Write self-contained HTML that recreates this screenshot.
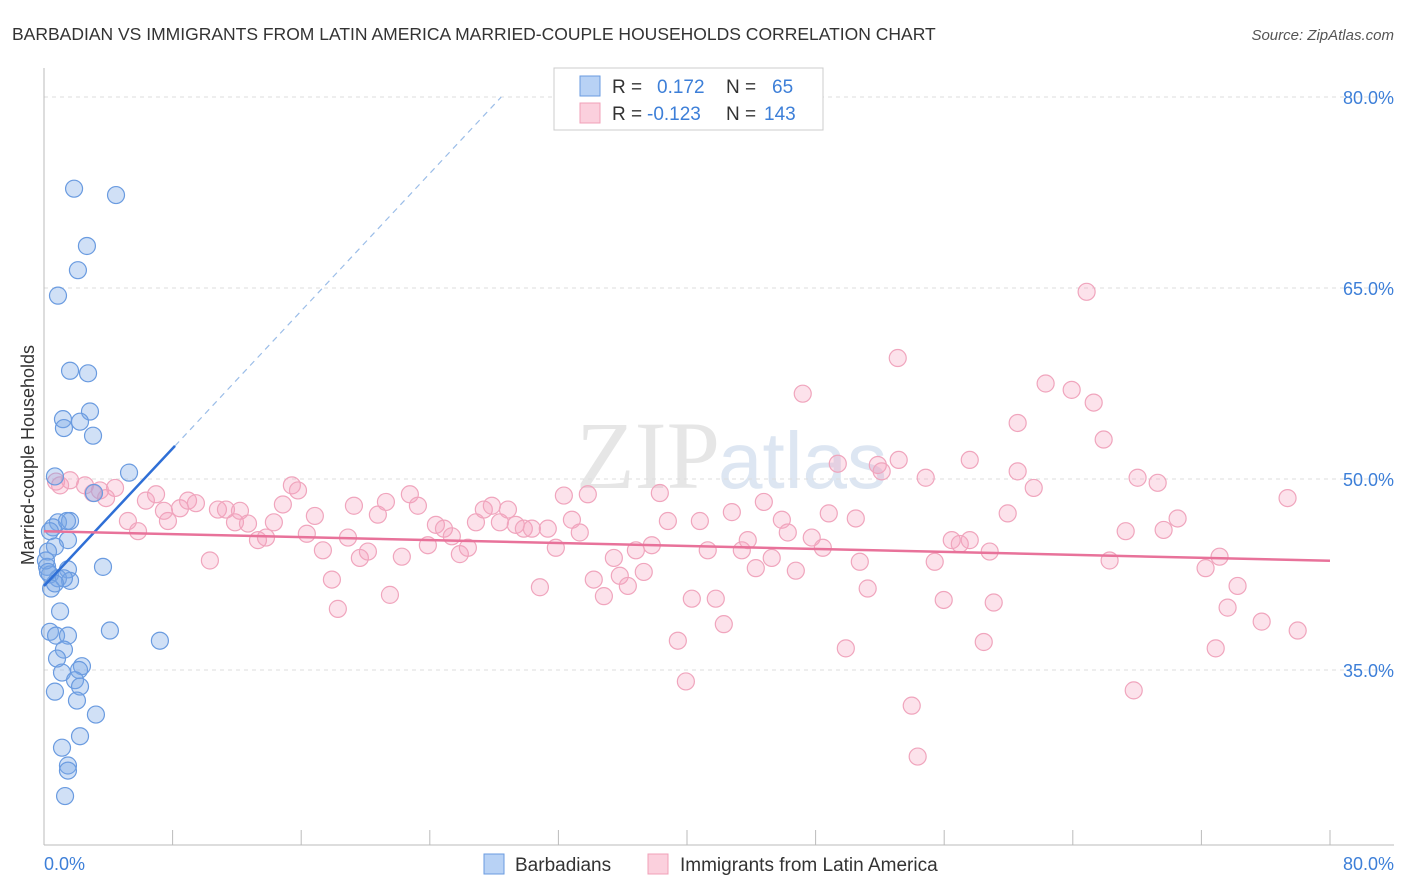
<!DOCTYPE html>
<html><head><meta charset="utf-8"><style>
body{margin:0;background:#fff;font-family:"Liberation Sans",sans-serif;}
svg{display:block}
</style></head><body>
<svg id="chart" width="1406" height="892" viewBox="0 0 1406 892">
<text x="12" y="40" font-size="17.5" fill="#333">BARBADIAN VS IMMIGRANTS FROM LATIN AMERICA MARRIED-COUPLE HOUSEHOLDS CORRELATION CHART</text>
<text x="1394" y="40" font-size="15" fill="#555" font-style="italic" text-anchor="end">Source: ZipAtlas.com</text>
<text x="720" y="488" font-size="96" fill="#e6e6e6" text-anchor="end" font-family="Liberation Serif,serif">ZIP</text>
<text x="718" y="488" font-size="80" fill="#dde6f2">atlas</text>
<g id="grid"></g>
<g id="axes"></g>
<text transform="translate(34,455) rotate(-90)" font-size="18" fill="#333" text-anchor="middle">Married-couple Households</text>
<g id="points"></g>
<g id="trends"></g>
<g>
<rect x="554" y="68" width="269" height="62" fill="#fff" stroke="#ccc"/>
<rect x="580" y="76" width="20" height="20" fill="#b8d2f5" stroke="#6a9be0"/>
<text x="612" y="93" font-size="19" fill="#333">R =</text><text x="657" y="93" font-size="19" fill="#3d7fd8">0.172</text>
<text x="726" y="93" font-size="19" fill="#333">N =</text><text x="772" y="93" font-size="19" fill="#3d7fd8">65</text>
<rect x="580" y="103" width="20" height="20" fill="#fbd0dd" stroke="#f0a0b8"/>
<text x="612" y="120" font-size="19" fill="#333">R =</text><text x="647" y="120" font-size="19" fill="#3d7fd8">-0.123</text>
<text x="726" y="120" font-size="19" fill="#333">N =</text><text x="764" y="120" font-size="19" fill="#3d7fd8">143</text>
</g>
<g>
<rect x="484" y="854" width="20" height="20" fill="#b8d2f5" stroke="#6a9be0"/>
<text x="515" y="871" font-size="19" fill="#333">Barbadians</text>
<rect x="648" y="854" width="20" height="20" fill="#fbd0dd" stroke="#f0a0b8"/>
<text x="680" y="871" font-size="19" fill="#333">Immigrants from Latin America</text>
</g>
</svg>
<script>
const yTicks=[35,50,65,80];
const xTickLabels=["0.0%","80.0%"];
const blueX=[1.87,4.48,2.67,2.11,0.87,1.62,2.74,2.86,1.18,2.24,1.24,3.05,5.29,0.68,3.11,0.87,0.56,1.62,1.43,0.37,1.49,0.68,0.25,0.19,1.49,3.67,0.37,0.87,1.62,1.24,0.44,0.68,1.0,0.37,0.75,1.49,4.1,7.21,1.24,0.81,2.36,2.18,1.12,1.93,2.24,0.68,2.05,3.23,2.24,1.12,1.49,1.49,1.31,0.12,0.25];
const blueY=[72.8,72.3,68.3,66.4,64.4,58.5,58.3,55.3,54.7,54.5,54.0,53.4,50.5,50.2,48.9,46.6,46.2,46.7,46.7,45.9,45.2,44.7,44.3,43.1,42.9,43.1,42.5,42.2,42.0,42.2,41.4,41.8,39.6,38.0,37.7,37.7,38.1,37.3,36.6,35.9,35.3,35.0,34.8,34.2,33.7,33.3,32.6,31.5,29.8,28.9,27.5,27.1,25.1,43.6,42.7];
const pinkX=[0.75,1.62,2.55,3.48,4.42,1.0,3.05,3.86,5.22,5.85,6.34,6.97,7.71,7.46,8.46,8.96,9.45,10.32,10.82,11.32,11.88,12.19,12.69,13.31,13.81,14.30,14.86,15.42,15.80,16.35,16.85,17.35,17.91,18.28,18.91,19.28,19.65,20.15,20.77,21.27,21.52,22.26,22.76,23.26,23.88,24.38,24.88,25.37,25.87,26.37,26.87,27.36,27.86,28.36,28.86,29.35,29.85,30.35,30.85,31.34,31.84,32.34,32.84,33.33,33.83,34.20,34.83,35.45,35.82,36.32,36.82,37.31,37.81,38.31,38.81,39.43,39.93,40.30,40.80,41.29,41.79,42.29,42.79,43.41,43.78,44.28,44.78,45.27,45.90,46.27,46.77,47.20,47.76,48.45,48.82,49.38,49.88,50.50,50.75,51.24,51.87,52.11,53.11,53.17,53.98,54.35,54.85,55.41,55.97,56.47,56.97,57.59,57.59,58.46,58.83,59.08,59.95,60.57,60.57,61.57,62.31,63.93,64.86,65.30,65.92,66.29,67.29,67.79,68.03,69.28,69.65,70.52,72.26,73.13,73.63,74.25,72.89,75.75,77.36,77.99];
const pinkY=[49.8,49.9,49.5,49.1,49.3,49.5,48.9,48.5,46.7,45.9,48.3,48.8,46.7,47.5,47.7,48.3,48.1,43.6,47.6,47.6,46.6,47.5,46.5,45.2,45.4,46.6,48.0,49.5,49.1,45.7,47.1,44.4,42.1,39.8,45.4,47.9,43.8,44.3,47.2,48.2,40.9,43.9,48.8,47.9,44.8,46.4,46.1,45.5,44.1,44.6,46.6,47.6,47.9,46.6,47.6,46.4,46.1,46.1,41.5,46.1,44.6,48.7,46.8,45.8,48.8,42.1,40.8,43.8,42.4,41.6,44.4,42.7,44.8,48.9,46.7,37.3,34.1,40.6,46.7,44.4,40.6,38.6,47.4,44.4,45.2,43.0,48.2,43.8,46.8,45.8,42.8,56.7,45.4,44.6,47.3,51.2,36.7,46.9,43.5,41.4,51.1,50.6,59.5,51.5,32.2,28.2,50.1,43.5,40.5,45.2,44.9,51.5,45.2,37.2,44.3,40.3,47.3,54.4,50.6,49.3,57.5,57.0,64.7,56.0,53.1,43.6,45.9,33.4,50.1,49.7,46.0,46.9,43.0,43.9,39.9,41.6,36.7,38.8,48.5,38.1];
const blueTrend=[41.6,1.35];   // intercept, slope
const pinkTrend=[45.9,-0.029];
const NS="http://www.w3.org/2000/svg";
const X0=44,X1=1330,Y0=97,YPER=191/15;
function sx(v){return X0+(X1-X0)*v/80;}
function sy(v){return Y0+(80-v)*YPER;}
function mk(tag,attrs,parent){const e=document.createElementNS(NS,tag);for(const k in attrs)e.setAttribute(k,attrs[k]);parent.appendChild(e);return e;}
const grid=document.getElementById('grid'),axes=document.getElementById('axes');
yTicks.forEach(t=>{
  const l=mk('line',{x1:44,x2:1394,y1:sy(t),y2:sy(t),stroke:'#ddd','stroke-dasharray':'4,4'},grid);
  
  
  const tx=mk('text',{x:1394,y:sy(t)+7,'font-size':18,fill:'#3d7fd8','text-anchor':'end'},axes);
  tx.textContent=t.toFixed(1)+'%';
  
  
});
const ya=mk('line',{x1:44,x2:44,y1:68,y2:845,stroke:'#bbb'},axes);


const xa=mk('line',{x1:44,x2:1394,y1:845,y2:845,stroke:'#bbb'},axes);


for(let i=0;i<=10;i++){
  const tk=mk('line',{x1:sx(i*8),x2:sx(i*8),y1:830,y2:845,stroke:'#bbb'},axes);
  
  
}
const xl0=mk('text',{x:44,y:870,'font-size':18,fill:'#3d7fd8'},axes);
xl0.textContent=xTickLabels[0];


const xl1=mk('text',{x:1394,y:870,'font-size':18,fill:'#3d7fd8','text-anchor':'end'},axes);
xl1.textContent=xTickLabels[1];


const pts=document.getElementById('points');
pinkX.forEach((v,i)=>{
  const c=mk('circle',{cx:sx(v),cy:sy(pinkY[i]),r:8.5,fill:'rgba(244,160,190,0.3)',stroke:'#f0a5bd','stroke-width':1.2},pts);
  
  
});
blueX.forEach((v,i)=>{
  const c=mk('circle',{cx:sx(v),cy:sy(blueY[i]),r:8.5,fill:'rgba(120,165,230,0.35)',stroke:'#6a9be0','stroke-width':1.2},pts);
  
  
});
const tr=document.getElementById('trends');
const bEnd=(80-blueTrend[0])/blueTrend[1];
const bd=mk('line',{x1:sx(8.15),y1:sy(blueTrend[0]+blueTrend[1]*8.15),x2:sx(bEnd),y2:sy(80),stroke:'#9bbde8','stroke-width':1.2,'stroke-dasharray':'6,5'},tr);


const bl=mk('line',{x1:sx(0),y1:sy(blueTrend[0]),x2:sx(8.15),y2:sy(blueTrend[0]+blueTrend[1]*8.15),stroke:'#2f6fd6','stroke-width':2.5},tr);


const pl=mk('line',{x1:sx(0),y1:sy(pinkTrend[0]),x2:sx(80),y2:sy(pinkTrend[0]+pinkTrend[1]*80),stroke:'#e8729a','stroke-width':2.5},tr);


</script>
</body></html>
